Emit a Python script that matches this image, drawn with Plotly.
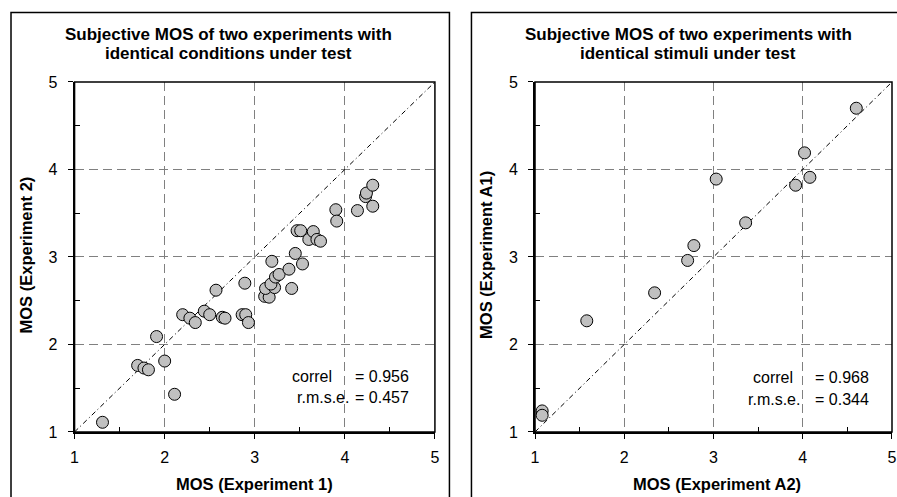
import plotly.graph_objects as go

W, H = 897, 497

# Left panel: Experiment 1 vs Experiment 2
exp1 = [1.31, 1.70, 1.77, 1.82, 1.91, 2.00, 2.11, 2.20, 2.28, 2.34, 2.44, 2.50, 2.57, 2.64, 2.67,
        2.86, 2.90, 2.89, 2.93, 3.11, 3.16, 3.12, 3.22, 3.18, 3.23, 3.27, 3.19, 3.38, 3.41, 3.53,
        3.45, 3.47, 3.51, 3.60, 3.65, 3.69, 3.73, 3.90, 3.91, 4.14, 4.23, 4.24, 4.31, 4.31]
exp2 = [1.11, 1.76, 1.73, 1.71, 2.09, 1.81, 1.43, 2.34, 2.30, 2.25, 2.38, 2.34, 2.62, 2.31, 2.30,
        2.34, 2.34, 2.70, 2.25, 2.55, 2.54, 2.64, 2.65, 2.69, 2.77, 2.80, 2.95, 2.86, 2.64, 2.92,
        3.04, 3.30, 3.30, 3.20, 3.29, 3.20, 3.18, 3.54, 3.41, 3.53, 3.69, 3.73, 3.82, 3.58]

# Right panel: Experiment A2 vs Experiment A1
expA2 = [1.08, 1.08, 1.58, 2.34, 2.71, 2.78, 3.03, 3.36, 3.92, 4.02, 4.08, 4.60]
expA1 = [1.24, 1.19, 2.27, 2.59, 2.96, 3.13, 3.89, 3.39, 3.82, 4.19, 3.91, 4.70]

diag = [1, 5]
ticks = [1, 2, 3, 4, 5]

titles = [["Subjective MOS of two experiments with", "identical conditions under test"],
          ["Subjective MOS of two experiments with", "identical stimuli under test"]]
xtitles = ["MOS (Experiment 1)", "MOS (Experiment A2)"]
ytitles = ["MOS (Experiment 2)", "MOS (Experiment A1)"]
correl = ["0.956", "0.968"]
rmse = ["0.457", "0.344"]

FONT = "Liberation Sans, Arial, sans-serif"


# map target picture pixels to paper fractions (calibrated to the rendered picture)
def px(x):
    return min(max((x - 2.5) / 0.989, -50), 2000) / W


def py(y):
    return 1 - ((y - 8) / 0.966) / H


fig = go.Figure()

marker = dict(size=12, color="#c0c0c0", line=dict(color="black", width=1))
line = dict(color="black", width=1, dash="5px,3px,1px,3px")

fig.add_trace(go.Scatter(x=diag, y=diag, mode="lines", line=line, xaxis="x", yaxis="y",
                         showlegend=False, hoverinfo="skip"))
fig.add_trace(go.Scatter(x=exp1, y=exp2, mode="markers", marker=marker, xaxis="x", yaxis="y",
                         showlegend=False))
fig.add_trace(go.Scatter(x=diag, y=diag, mode="lines", line=line, xaxis="x2", yaxis="y2",
                         showlegend=False, hoverinfo="skip"))
fig.add_trace(go.Scatter(x=expA2, y=expA1, mode="markers", marker=marker, xaxis="x2", yaxis="y2",
                         showlegend=False))

ydom = [py(432), py(82)]
axis_common = dict(
    range=[1, 5], tickvals=ticks, showline=True, linecolor="black", linewidth=2,
    ticks="outside", ticklen=5, tickwidth=1, tickcolor="black",
    showgrid=True, gridcolor="#808080", gridwidth=1, griddash="9px,5px",
    zeroline=False, tickfont=dict(family=FONT, size=16, color="black"),
    minor=dict(tickvals=[1.5, 2.5, 3.5, 4.5], ticks="inside", ticklen=5, tickwidth=1,
               tickcolor="black", showgrid=False),
    fixedrange=True,
)

fig.update_layout(
    width=W, height=H, margin=dict(l=0, r=0, t=0, b=0),
    paper_bgcolor="white", plot_bgcolor="white",
    xaxis=dict(domain=[px(73), px(433)], anchor="y", ticklabelstandoff=5, **axis_common),
    yaxis=dict(domain=ydom, anchor="x", ticklabelstandoff=7, **axis_common),
    xaxis2=dict(domain=[px(533), 1.0], anchor="y2", ticklabelstandoff=5, **axis_common),
    yaxis2=dict(domain=ydom, anchor="x2", ticklabelstandoff=7, **axis_common),
)

shapes = []
for xr, yr in [("x", "y"), ("x2", "y2")]:
    shapes.append(dict(type="rect", xref=xr + " domain", yref=yr + " domain", x0=0, y0=0, x1=1, y1=1,
                       line=dict(color="black", width=1.5), layer="above"))
shapes.append(dict(type="rect", xref="paper", yref="paper", x0=px(9.5), y0=-0.1, x1=px(447.5), y1=py(12.5),
                   line=dict(color="black", width=1.5)))
shapes.append(dict(type="rect", xref="paper", yref="paper", x0=px(469.5), y0=-0.1, x1=1.1, y1=py(12.5),
                   line=dict(color="black", width=1.5)))
fig.update_layout(shapes=shapes)


def A(text, x, y, size, xanchor="center", angle=0):
    return dict(text=text, x=px(x), y=py(y), xref="paper", yref="paper", showarrow=False,
                xanchor=xanchor, yanchor="middle", textangle=angle, borderpad=0,
                font=dict(family=FONT, size=size, color="black"))


ann = []
title_x = [227, 686]
xt_x = [253, 715]
yt_x = [24, 484]
eq_x = [352, 812]
cor_end = [331, 792]
rm_end = [348, 799]
row_y = [[377, 398], [378, 400]]
for i in range(2):
    ann.append(A("<b>" + titles[i][0] + "</b>", title_x[i], 35, 17))
    ann.append(A("<b>" + titles[i][1] + "</b>", title_x[i], 54, 17))
    ann.append(A("<b>" + xtitles[i] + "</b>", xt_x[i], 484, 16.5))
    ann.append(A("<b>" + ytitles[i] + "</b>", yt_x[i], 255, 16.5, angle=-90))
    ann.append(A("correl", cor_end[i], row_y[i][0], 16, xanchor="right"))
    ann.append(A("r.m.s.e.", rm_end[i], row_y[i][1], 16, xanchor="right"))
    ann.append(A("= " + correl[i], eq_x[i], row_y[i][0], 16, xanchor="left"))
    ann.append(A("= " + rmse[i], eq_x[i], row_y[i][1], 16, xanchor="left"))
fig.update_layout(annotations=ann)

fig.write_html("out.html", config={"displayModeBar": False},
               post_script="document.body.style.margin='0';document.body.style.overflow='hidden';"
                           "document.documentElement.style.overflow='hidden';")
